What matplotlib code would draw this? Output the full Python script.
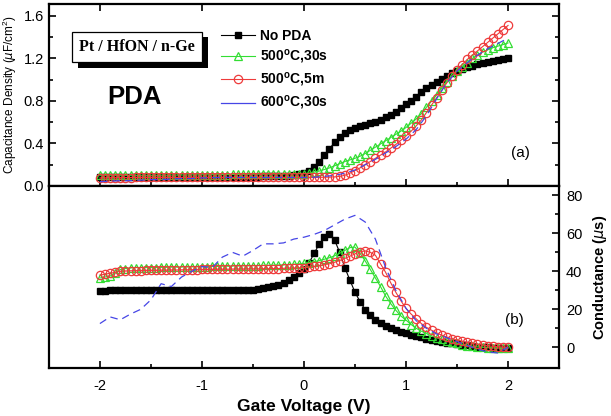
import numpy as np
import matplotlib
matplotlib.use("Agg")
import matplotlib.pyplot as plt
from matplotlib.lines import Line2D
import matplotlib.patheffects as pe

plt.rcParams['font.family'] = ['Liberation Sans', 'DejaVu Sans']
plt.rcParams['mathtext.fontset'] = 'custom'
plt.rcParams['mathtext.rm'] = 'Liberation Sans'
plt.rcParams['mathtext.bf'] = 'Liberation Sans:bold'

# gate voltage, 0.05 V step for the marker series (81 points)
v = np.linspace(-2.0, 2.0, 81)
# 0.1 V step for the 600C dashed series (41 points)
v_blue = np.linspace(-2.0, 2.0, 41)

labels = ["No PDA", r"500$^\mathbf{o}$C,30s", r"500$^\mathbf{o}$C,5m", r"600$^\mathbf{o}$C,30s"]

# (a) capacitance density (uF/cm2), rows of 10 = 0.5 V each
cap_nopda = [0.08, 0.08, 0.08, 0.08, 0.08, 0.08, 0.08, 0.08, 0.08, 0.08,
             0.08, 0.081, 0.081, 0.082, 0.082, 0.083, 0.083, 0.084, 0.084, 0.085,
             0.085, 0.085, 0.085, 0.085, 0.085, 0.085, 0.086, 0.086, 0.087, 0.087,
             0.088, 0.088, 0.089, 0.09, 0.09, 0.09, 0.092, 0.095, 0.10, 0.11,
             0.12, 0.145, 0.18, 0.23, 0.29, 0.35, 0.41, 0.46, 0.50, 0.525,
             0.545, 0.56, 0.575, 0.59, 0.605, 0.625, 0.645, 0.67, 0.70, 0.73,
             0.77, 0.80, 0.84, 0.88, 0.92, 0.95, 0.98, 1.01, 1.035, 1.06,
             1.08, 1.10, 1.115, 1.13, 1.145, 1.155, 1.165, 1.175, 1.185, 1.195,
             1.205]
cap_500_30s = [0.10, 0.10, 0.10, 0.10, 0.10, 0.10, 0.10, 0.10, 0.10, 0.10,
               0.10, 0.10, 0.101, 0.101, 0.102, 0.102, 0.103, 0.103, 0.104, 0.104,
               0.105, 0.105, 0.106, 0.106, 0.107, 0.107, 0.108, 0.108, 0.109, 0.109,
               0.11, 0.11, 0.11, 0.111, 0.111, 0.112, 0.112, 0.113, 0.114, 0.115,
               0.115, 0.12, 0.13, 0.14, 0.155, 0.17, 0.19, 0.21, 0.23, 0.245,
               0.26, 0.28, 0.305, 0.335, 0.365, 0.395, 0.425, 0.455, 0.485, 0.515,
               0.55, 0.59, 0.63, 0.68, 0.74, 0.80, 0.855, 0.92, 0.98, 1.03,
               1.08, 1.12, 1.16, 1.20, 1.23, 1.26, 1.28, 1.30, 1.315, 1.33,
               1.345]
cap_500_5m = [0.075, 0.076, 0.077, 0.078, 0.078, 0.079, 0.079, 0.08, 0.08, 0.08,
              0.08, 0.08, 0.08, 0.08, 0.08, 0.08, 0.08, 0.08, 0.08, 0.08,
              0.08, 0.08, 0.08, 0.08, 0.08, 0.08, 0.08, 0.08, 0.08, 0.08,
              0.08, 0.08, 0.08, 0.08, 0.08, 0.08, 0.08, 0.08, 0.08, 0.08,
              0.08, 0.08, 0.081, 0.081, 0.082, 0.083, 0.085, 0.09, 0.10, 0.12,
              0.145, 0.17, 0.20, 0.23, 0.26, 0.29, 0.32, 0.355, 0.39, 0.43,
              0.47, 0.515, 0.565, 0.62, 0.69, 0.76, 0.83, 0.90, 0.97, 1.03,
              1.09, 1.14, 1.19, 1.23, 1.27, 1.31, 1.35, 1.39, 1.43, 1.47,
              1.51]
cap_600_30s = [0.04, 0.045, 0.05, 0.05, 0.055, 0.06, 0.06, 0.065, 0.07, 0.07,
               0.075, 0.078, 0.08, 0.08, 0.08, 0.08, 0.08, 0.08, 0.08, 0.08,
               0.08, 0.082, 0.09, 0.10, 0.12, 0.15, 0.20, 0.25, 0.31, 0.37,
               0.44, 0.53, 0.66, 0.82, 0.97, 1.08, 1.16, 1.23, 1.29, 1.34,
               1.39]

# (b) conductance (uS)
g_nopda = [29.8, 29.9, 30.0, 30.0, 30.0, 30.0, 30.0, 30.0, 30.0, 30.0,
           30.0, 30.0, 30.0, 30.0, 30.0, 30.0, 30.0, 30.0, 30.0, 30.0,
           30.0, 30.0, 30.0, 30.0, 30.0, 30.0, 30.0, 30.0, 30.1, 30.2,
           30.4, 30.7, 31.0, 31.5, 32.2, 33.0, 34.0, 35.3, 37.0, 39.0,
           41.5, 44.5, 49.5, 54.5, 58.0, 59.5, 56.5, 50.0, 42.0, 35.4,
           29.0, 24.0, 19.8, 16.8, 14.5, 12.7, 11.3, 10.1, 9.1, 8.2,
           7.4, 6.6, 5.9, 5.2, 4.6, 4.0, 3.5, 3.0, 2.5, 2.1,
           1.7, 1.3, 1.0, 0.7, 0.4, 0.2, 0.0, -0.2, -0.3, -0.4,
           -0.5]
g_500_30s = [36.5, 37.0, 37.5, 39.0, 41.0, 41.5, 41.8, 42.0, 42.0, 42.0,
             42.0, 42.0, 42.1, 42.1, 42.2, 42.2, 42.3, 42.3, 42.4, 42.4,
             42.5, 42.5, 42.6, 42.6, 42.7, 42.7, 42.8, 42.8, 42.9, 42.9,
             43.0, 43.0, 43.1, 43.1, 43.2, 43.3, 43.4, 43.5, 43.7, 43.9,
             44.2, 44.6, 45.1, 45.7, 46.4, 47.2, 48.2, 49.5, 51.0, 52.5,
             52.8, 49.5, 45.5, 41.0, 36.5, 32.0, 27.0, 23.0, 19.5, 16.5,
             14.3, 12.0, 10.0, 8.5, 7.2, 6.0, 5.0, 4.2, 3.4, 2.7,
             2.0, 1.4, 0.9, 0.5, 0.2, 0.0, -0.2, -0.3, -0.4, -0.5,
             -0.5]
g_500_5m = [38.0, 38.5, 39.0, 39.5, 40.0, 40.2, 40.3, 40.4, 40.4, 40.5,
            40.5, 40.5, 40.6, 40.6, 40.7, 40.7, 40.8, 40.8, 40.9, 40.9,
            41.0, 41.0, 41.0, 41.1, 41.1, 41.1, 41.2, 41.2, 41.2, 41.3,
            41.3, 41.3, 41.4, 41.4, 41.5, 41.5, 41.6, 41.7, 41.8, 41.9,
            42.0, 42.3, 42.6, 43.0, 43.5, 44.0, 44.8, 45.7, 46.8, 48.0,
            49.2, 50.3, 50.8, 50.0, 48.5, 44.0, 39.5, 34.0, 29.0, 24.5,
            20.5, 17.5, 15.0, 12.5, 10.5, 9.0, 7.6, 6.4, 5.4, 4.6,
            3.8, 3.2, 2.6, 2.1, 1.6, 1.2, 0.8, 0.5, 0.3, 0.1,
            0.0]
g_600_30s = [12.5, 16.0, 14.5, 17.5, 20.0, 25.0, 33.5, 32.0, 37.0, 40.0,
             42.5, 42.0, 47.5, 50.0, 48.0, 51.0, 54.5, 54.5, 55.0, 57.0,
             58.0, 59.5, 61.5, 64.5, 67.5, 69.5, 66.0, 57.0, 42.0, 30.0,
             20.5, 14.0, 10.0, 7.0, 5.0, 3.0, 1.0, -1.0, -2.5, -3.0,
             0.0]

green = '#33dd33'
red = '#ee3b3b'
blue = '#4646e6'

fig = plt.figure(figsize=(6.11, 4.16), dpi=100)
ax1 = fig.add_axes([0.080, 0.553, 0.835, 0.437])
ax2 = fig.add_axes([0.080, 0.115, 0.835, 0.438])


def series(ax, c_black, c_green, c_red, c_blue):
    h1, = ax.plot(v, c_black, '-s', color='black', ms=5, lw=0.8, mfc='black', mec='black')
    h2, = ax.plot(v, c_green, '-^', color=green, ms=6.2, lw=0.8, mfc='none', mec=green, mew=0.9)
    h3, = ax.plot(v, c_red, '-o', color=red, ms=6, lw=0.8, mfc='none', mec=red, mew=0.9)
    ax.plot(v_blue, c_blue, '--', color=blue, lw=0.9, dashes=(6, 4))
    return h1, h2, h3


h1, h2, h3 = series(ax1, cap_nopda, cap_500_30s, cap_500_5m, cap_600_30s)
series(ax2, g_nopda, g_500_30s, g_500_5m, g_600_30s)

for ax in (ax1, ax2):
    ax.set_xlim(-2.5, 2.5)
    for s in ax.spines.values():
        s.set_linewidth(1.6)

# top panel
ax1.set_ylim(0, 1.71)
ax1.set_yticks([0.0, 0.4, 0.8, 1.2, 1.6])
ax1.set_yticks([0.2, 0.6, 1.0, 1.4], minor=True)
ax1.set_yticklabels(['0.0', '0.4', '0.8', '1.2', '1.6'])
ax1.set_xticks([-2, -1, 0, 1, 2])
ax1.set_xticks([-1.5, -0.5, 0.5, 1.5], minor=True)
ax1.tick_params(which='both', direction='in', left=True, right=True, top=True,
                bottom=True, labelbottom=False, labelsize=10.5, width=1.2)
ax1.tick_params(which='major', length=5)
ax1.tick_params(which='minor', length=3, top=False)
ax1.set_ylabel(r'Capacitance Density ($\mu$F/cm$^2$)', fontsize=8.5)
ax1.yaxis.set_label_coords(-0.058, 0.5)

# bottom panel
ax2.set_ylim(-11, 85)
ax2.set_yticks([0, 20, 40, 60, 80])
ax2.set_yticks([10, 30, 50, 70], minor=True)
ax2.set_xticks([-2, -1, 0, 1, 2])
ax2.set_xticklabels(['-2', '-1', '0', '1', '2'])
ax2.set_xticks([-1.5, -0.5, 0.5, 1.5], minor=True)
ax2.yaxis.set_label_position('right')
ax2.tick_params(which='both', direction='in', left=False, right=True, top=False,
                bottom=True, labelleft=False, labelright=True, labelsize=10.5, width=1.2)
ax2.tick_params(which='major', length=5)
ax2.tick_params(axis='x', pad=8)
ax2.tick_params(axis='y', pad=5)
ax2.tick_params(which='minor', length=3)
ax2.set_ylabel(r'Conductance ($\mu$s)', fontsize=10.5, fontweight='bold', labelpad=6)
ax2.set_xlabel('Gate Voltage (V)', fontsize=12.5, fontweight='bold', labelpad=4)

# legend (600C drawn dashed in the data, solid in the key)
h4 = Line2D([], [], color=blue, lw=0.9)
ax1.legend([h1, h2, h3, h4], labels, loc='upper left', bbox_to_anchor=(0.338, 0.866),
           frameon=False, prop={'weight': 'bold', 'size': 10}, handlelength=2.4,
           handletextpad=0.4, labelspacing=0.38, borderpad=0, borderaxespad=0)

# sample box with a solid drop shadow
box = ax1.text(0.06, 0.743, 'Pt / HfON / n-Ge', transform=ax1.transAxes, fontsize=11.5,
               family='Liberation Serif', fontweight='bold',
               bbox=dict(boxstyle='square,pad=0.45', fc='white', ec='black', lw=0.9))
box.get_bbox_patch().set_path_effects(
    [pe.withSimplePatchShadow(offset=(4, -4), shadow_rgbFace='black', alpha=1.0)])

ax1.text(0.115, 0.45, 'PDA', transform=ax1.transAxes, fontsize=18.5, fontweight='bold')
ax1.text(0.925, 0.16, '(a)', transform=ax1.transAxes, fontsize=11, ha='center')
ax2.text(0.912, 0.24, '(b)', transform=ax2.transAxes, fontsize=11, ha='center')

fig.savefig('out.png', dpi=100)
